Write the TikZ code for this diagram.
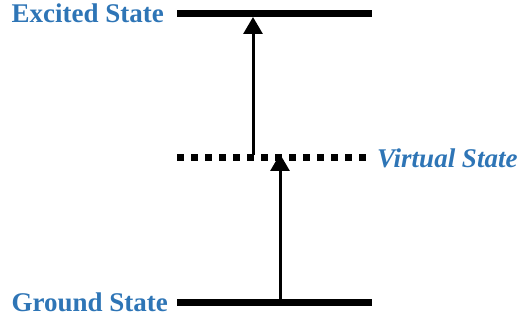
\documentclass[tikz,border=0pt]{standalone}
\usepackage{fontspec}
\setmainfont{Liberation Serif}
\usetikzlibrary{arrows.meta}
\definecolor{stateblue}{RGB}{46,117,182}

\begin{document}
\begin{tikzpicture}[x=1pt,y=-1pt,
    lbl/.style={text=stateblue,font=\fontsize{27}{27}\selectfont\bfseries,inner sep=0pt},
    level/.style={line width=6.5pt},
    virt/.style={line width=6.5pt,dash pattern=on 6.5pt off 7.5pt},
    trans/.style={line width=3pt,-{Triangle[length=17pt,width=19pt]}}]
        \useasboundingbox (0,0) rectangle (521,320);

        % energy levels
        \coordinate (exL) at (177,13.5);  \coordinate (exR) at (372,13.5);
        \coordinate (viL) at (177,157.5); \coordinate (viR) at (372,157.5);
        \coordinate (grL) at (177,302.5); \coordinate (grR) at (372,302.5);
        \draw[level] (exL) -- (exR);
        \draw[virt] (viL) -- (viR);
        \draw[level] (grL) -- (grR);

        \node[lbl,anchor=east] (exc) at (164,13.5) {Excited State};
        \node[lbl,anchor=west] (vir) at (377,158) {\itshape Virtual State};
        \node[lbl,anchor=east] (gnd) at (168,302) {Ground State};

        % transitions
        \coordinate (t1s) at (253,155); \coordinate (t1e) at (253,17);
        \coordinate (t2s) at (280,300); \coordinate (t2e) at (280,154);
        \draw[trans] (t1s) -- (t1e);
        \draw[trans] (t2s) -- (t2e);
      \end{tikzpicture}
\end{document}
